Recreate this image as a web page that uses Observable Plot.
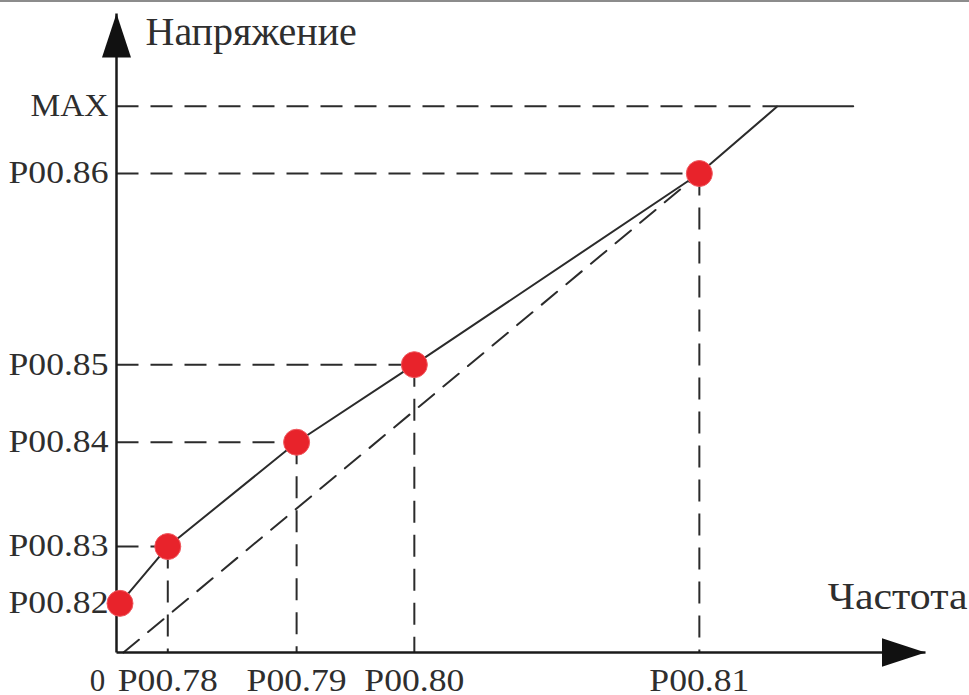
<!DOCTYPE html>
<html><head><meta charset="utf-8">
<script src="https://cdn.jsdelivr.net/npm/d3@7"></script>
<script src="https://cdn.jsdelivr.net/npm/@observablehq/plot@0.6"></script>
<style>
html,body{margin:0;padding:0;background:#fff;overflow:hidden}
#topline{position:fixed;left:0;top:0;width:100%;height:2px;background:#8c8c8c}
</style></head><body><div id="chart"></div><div id="topline"></div>
<script>
// Frequency axis (x) – labelled break points
const freqLabels = ["P00.78", "P00.79", "P00.80", "P00.81"];
const freqValues = [8.8, 30.9, 51.1, 100];
// Voltage axis (y) – labelled break points
const voltLabels = ["P00.82", "P00.83", "P00.84", "P00.85", "P00.86", "MAX"];
const voltValues = [9.0, 19.4, 38.5, 52.7, 87.7, 100];
// Multi-point V/F curve
const curveFreq = [0.6, 8.8, 30.9, 51.1, 100, 113.4, 126.4];
const curveVolt = [9.0, 19.4, 38.5, 52.7, 87.7, 100, 100];
// Red set points
const pointFreq = [0.6, 8.8, 30.9, 51.1, 100];
const pointVolt = [9.0, 19.4, 38.5, 52.7, 87.7];
// Straight (linear) reference line
const linearFreq = [1.2, 100];
const linearVolt = [0, 87.7];
// Axis arrow ends
const axisEndFreq = 138.8;
const axisEndVolt = 117;
const titleY = "Напряжение";
const titleX = "Частота";
const originLabel = "0";

const curve = curveFreq.map((f, i) => ({f, v: curveVolt[i]}));
const points = pointFreq.map((f, i) => ({f, v: pointVolt[i]}));
const linear = linearFreq.map((f, i) => ({f, v: linearVolt[i]}));
const hGuides = voltValues.slice(1).map(v => ({v, f: curveFreq[curveVolt.indexOf(v)]}));
const vGuides = freqValues.map(f => ({f, v: curveVolt[curveFreq.indexOf(f)]}));
const axesData = [
  {x1: 0, y1: 0, x2: 0, y2: axisEndVolt},
  {x1: 0, y1: 0, x2: axisEndFreq, y2: 0}
];

const ink = "#2b2b2b";
const textInk = "#2e2e2e";
const dash = "22,12";

const plot = Plot.plot({
  width: 969, height: 695,
  marginLeft: 116, marginRight: 44, marginTop: 13, marginBottom: 43,
  x: {domain: [0, axisEndFreq], label: null},
  y: {domain: [0, axisEndVolt], label: null},
  style: {fontFamily: "'Liberation Serif', 'Times New Roman', serif", fontSize: "31px", background: "#fff", color: textInk},
  marks: [
    Plot.link(hGuides, {x1: 0, x2: "f", y1: "v", y2: "v", stroke: ink, strokeWidth: 2, strokeDasharray: dash}),
    Plot.link(vGuides, {x1: "f", x2: "f", y1: "v", y2: 0, stroke: ink, strokeWidth: 2, strokeDasharray: dash}),
    Plot.line(linear, {x: "f", y: "v", stroke: ink, strokeWidth: 2, strokeDasharray: "20,12"}),
    Plot.link(axesData, {x1: "x1", y1: "y1", x2: "x2", y2: "y2", stroke: "#1a1a1a", strokeWidth: 2.5}),
    Plot.line(curve, {x: "f", y: "v", stroke: ink, strokeWidth: 2}),
    Plot.dot(points, {x: "f", y: "v", r: 13, fill: "#e8232b", stroke: "#f0585e", strokeWidth: 1}),
    Plot.axisY(voltValues, {tickFormat: d => voltLabels[voltValues.indexOf(d)], tickSize: 0, tickPadding: 8, fontSize: 31, fill: textInk, label: null}),
    Plot.axisX(freqValues, {tickFormat: d => freqLabels[freqValues.indexOf(d)], tickSize: 0, tickPadding: 16, fontSize: 31, fill: textInk, label: null}),
    Plot.text([originLabel], {x: 0, y: 0, text: d => d, dx: -19, dy: 16, lineAnchor: "top", fontSize: 31, fill: textInk}),
    Plot.text([titleY], {x: 0, y: axisEndVolt, text: d => d, textAnchor: "start", dx: 29, dy: 19, fontSize: 40, fill: textInk}),
    Plot.text([titleX], {x: axisEndFreq, y: 0, text: d => d, textAnchor: "end", dx: 42, dy: -56, fontSize: 38, fill: textInk})
  ]
});

document.getElementById("chart").appendChild(plot);

const svgNode = plot.tagName.toLowerCase() === "svg" ? plot : plot.querySelector("svg");
const svg = d3.select(svgNode);

// filled triangular arrowheads on the two axes (the third link mark)
const defs = svg.insert("defs", ":first-child");
defs.append("marker")
  .attr("id", "tri-head")
  .attr("viewBox", "0 0 44 29")
  .attr("markerWidth", 44).attr("markerHeight", 29)
  .attr("refX", 44).attr("refY", 14.5)
  .attr("markerUnits", "userSpaceOnUse")
  .attr("orient", "auto")
  .append("path").attr("d", "M0,0L44,14.5L0,29Z").attr("fill", "#111");
const linkGroups = svgNode.querySelectorAll('g[aria-label="link"]');
const axesGroup = linkGroups[linkGroups.length - 1];
if (axesGroup) d3.select(axesGroup).selectAll("path, line").attr("marker-end", "url(#tri-head)");

// the reference typeface is set slightly wider: stretch the tick labels horizontally
function stretch(sel, k) {
  sel.each(function () {
    const len = this.getComputedTextLength();
    if (len > 0) {
      this.setAttribute("textLength", (len * k).toFixed(1));
      this.setAttribute("lengthAdjust", "spacingAndGlyphs");
    }
  });
}
const tickTexts = svg.selectAll('g[aria-label="y-axis tick label"] text, g[aria-label="x-axis tick label"] text')
  .filter(function () { return this.textContent !== "MAX"; });
stretch(tickTexts, 1.15);
stretch(svg.selectAll("text").filter(function () { return this.textContent === "MAX"; }), 1.08);
stretch(svg.selectAll("text").filter(function () { return this.textContent === titleX; }), 1.1);
</script></body></html>
